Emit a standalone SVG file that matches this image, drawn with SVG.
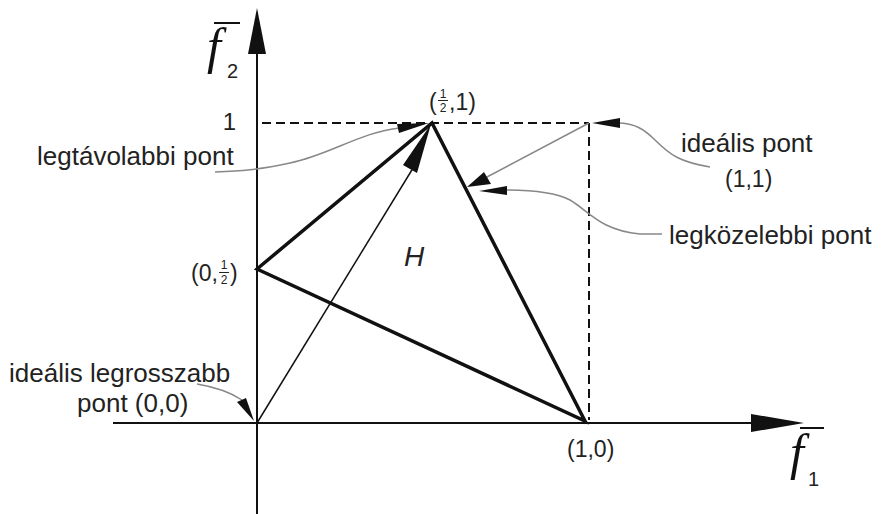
<svg xmlns="http://www.w3.org/2000/svg" width="889" height="514" viewBox="0 0 889 514">
<style>
.t{font-family:"Liberation Sans",Arial,sans-serif;fill:#222}
.lbl{font-size:26px}
.co{font-size:23px}
.fr{font-size:12px}
.fi{font-family:"Liberation Serif","Times New Roman",serif;font-style:italic;font-size:50px;fill:#111}
.sub{font-family:"Liberation Sans",Arial,sans-serif;font-size:20px;fill:#222}
.axis{stroke:#111;stroke-width:2;fill:none}
.dash{stroke:#111;stroke-width:2;stroke-dasharray:9 5;fill:none}
.tri{stroke:#111;stroke-width:3.5;fill:none;stroke-linejoin:miter}
.thin{stroke:#111;stroke-width:1.5;fill:none}
.lead{stroke:#888;stroke-width:1.5;fill:none}
.head{fill:#111}
</style>
<g id="axes">
<line class="axis" x1="257" y1="40" x2="257" y2="514"/>
<polygon class="head" points="257,8 248,54 266,54"/>
<line class="axis" x1="113" y1="423" x2="760" y2="423"/>
<polygon class="head" points="804,423 751,414 751,432"/>
<line x1="214" y1="23" x2="240" y2="23" stroke="#111" stroke-width="2"/>
<text class="fi" x="207" y="63">f</text>
<text class="sub" x="227" y="78">2</text>
<line x1="800" y1="428" x2="824" y2="428" stroke="#111" stroke-width="2"/>
<text class="fi" x="790" y="469">f</text>
<text class="sub" x="808" y="486">1</text>
<text class="t" x="236" y="130" text-anchor="end" font-size="24">1</text>
</g>
<g id="guides">
<line class="dash" x1="262" y1="123" x2="589" y2="123"/>
<line class="dash" x1="589" y1="123" x2="589" y2="420"/>
</g>
<g id="triangle-H">
<polygon class="tri" points="257,269 432,123 585,421"/>
<text class="t" x="404" y="266" font-size="28" font-style="italic">H</text>
</g>
<g id="connectors">
<line class="thin" x1="257" y1="423" x2="418" y2="160"/>
<polygon class="head" points="431,124 403,165 417,173"/>
<line class="lead" x1="589" y1="123" x2="485" y2="178"/>
<polygon class="head" points="467,187 484,172 491,184"/>
<path class="lead" d="M215,172 C240,171 258,170 290,163 C330,155 360,132 400,128"/>
<polygon class="head" points="429,123 397,124 399,133"/>
<path class="lead" d="M710,167 C680,162 670,155 655,140 C645,130 635,123 618,123"/>
<polygon class="head" points="592,123 620,118 620,128"/>
<path class="lead" d="M662,234 L640,234 C600,230 590,212 570,200 C555,192 530,190 505,190"/>
<polygon class="head" points="479,191 507,186 507,195"/>
<path class="lead" d="M197,384 C215,387 230,392 242,400"/>
<polygon class="head" points="254,421 237,402 246,398"/>
</g>
<g id="label-half-one">
<text class="t co" x="429" y="110">(</text>
<text class="t fr" x="443" y="97.5" text-anchor="middle">1</text>
<line x1="438" y1="100.5" x2="448" y2="100.5" stroke="#222" stroke-width="1"/>
<text class="t fr" x="443" y="112" text-anchor="middle">2</text>
<text class="t co" x="449" y="110">,1)</text>
</g>
<g id="label-zero-half">
<text class="t co" x="191" y="281">(0,</text>
<text class="t fr" x="224" y="269" text-anchor="middle">1</text>
<line x1="219" y1="272.5" x2="229" y2="272.5" stroke="#222" stroke-width="1"/>
<text class="t fr" x="224" y="284" text-anchor="middle">2</text>
<text class="t co" x="230" y="281">)</text>
</g>
<g id="label-one-zero"><text class="t co" x="567" y="457">(1,0)</text></g>
<g id="label-farthest"><text class="t lbl" x="37" y="165">legtávolabbi pont</text></g>
<g id="label-ideal"><text class="t lbl" x="681" y="152">ideális pont</text><text class="t co" x="725" y="187">(1,1)</text></g>
<g id="label-closest"><text class="t lbl" x="669" y="244">legközelebbi pont</text></g>
<g id="label-worst"><text class="t lbl" x="9" y="382">ideális legrosszabb</text><text class="t lbl" x="77" y="412">pont (0,0)</text></g>
</svg>
